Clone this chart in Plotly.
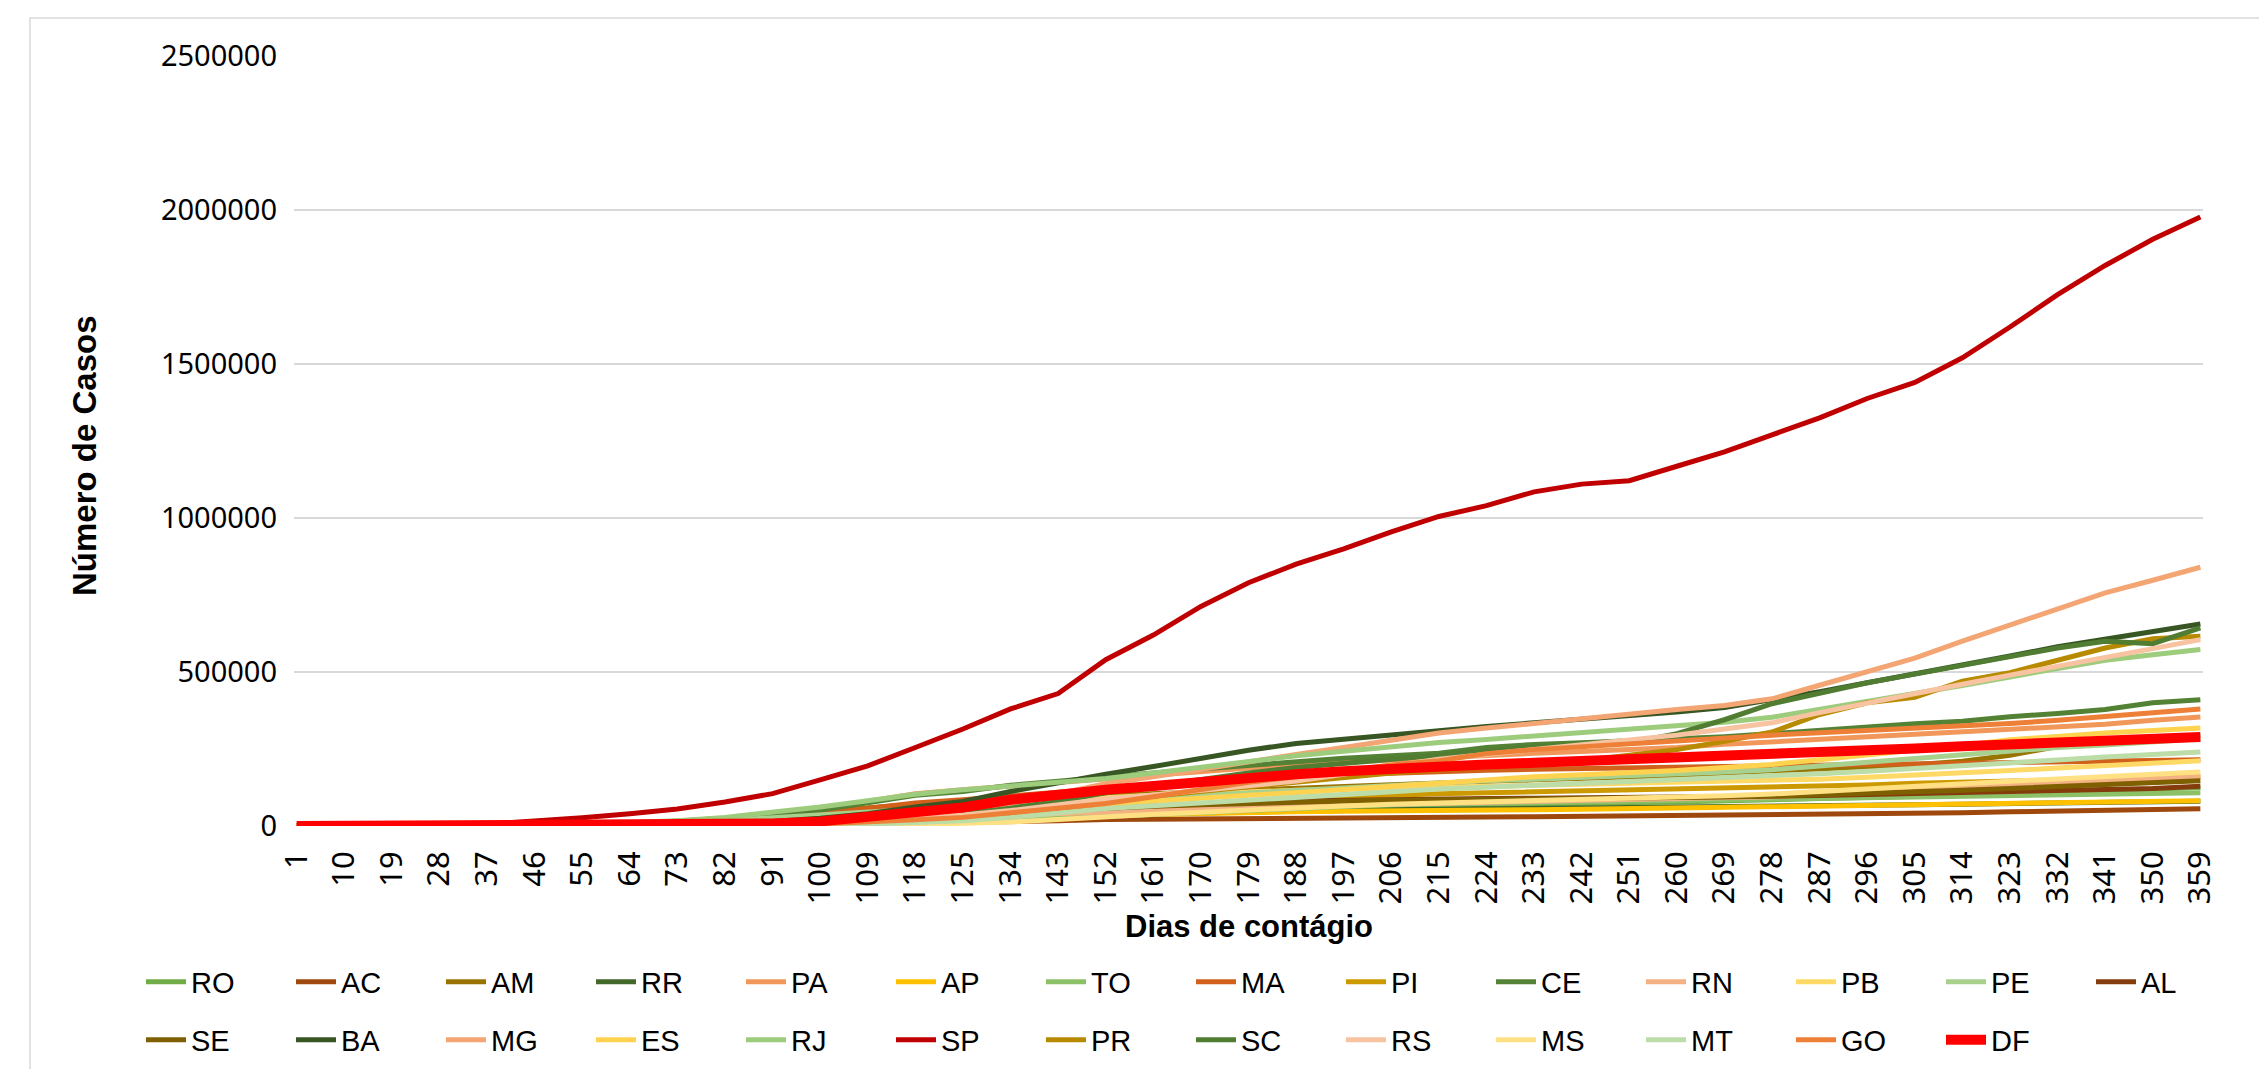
import plotly.graph_objects as go

# Day labels shown on the category axis (one sample every 9 rows)
DAY_LABELS = ["1", "10", "19", "28", "37", "46", "55", "64", "73", "82", "91", "100",
              "109", "118", "125", "134", "143", "152", "161", "170", "179", "188",
              "197", "206", "215", "224", "233", "242", "251", "260", "269", "278",
              "287", "296", "305", "314", "323", "332", "341", "350", "359"]

STATES = ["RO", "AC", "AM", "RR", "PA", "AP", "TO", "MA", "PI", "CE", "RN", "PB", "PE", "AL",
          "SE", "BA", "MG", "ES", "RJ", "SP", "PR", "SC", "RS", "MS", "MT", "GO", "DF"]

# Cumulative cases, in thousands, read at each labelled day
RO = [0, 0, 0, 0, 0, 0.05, 0.2, 0.5, 1.2, 2.5, 5, 8, 12, 16, 19, 25, 33, 43, 48, 51, 54, 57, 61, 65, 68, 70, 72, 74, 76, 78, 81, 84, 88, 92, 96, 100, 104, 109, 114, 119, 125]
AC = [0, 0, 0, 0, 0, 0.05, 0.1, 0.2, 0.6, 1.5, 3.5, 5, 7, 9, 10.5, 13, 17, 21, 22.5, 23.5, 24.5, 25.5, 26.5, 27.5, 28, 29, 30, 31, 32, 33, 34, 35, 37, 39, 41, 43, 46, 49, 52, 54, 56]
AM = [0, 0, 0, 0, 0.3, 1.2, 3, 5.5, 11, 20, 36, 48, 60, 72, 82, 88, 94, 100, 106, 112, 118, 124, 130, 136, 141, 145, 150, 154, 159, 164, 172, 178, 186, 192, 199, 210, 230, 258, 272, 284, 295]
RR = [0, 0, 0, 0, 0, 0.03, 0.1, 0.4, 1, 2, 3, 5, 8, 11, 14, 20, 27, 36, 40, 43, 46, 48, 51, 54, 55, 56, 57, 58, 59, 60, 61, 63, 65, 67, 69, 71, 72, 74, 75, 77, 80]
PA = [0, 0, 0, 0, 0.1, 0.5, 2, 5, 10, 20, 36, 55, 80, 105, 118, 130, 142, 156, 167, 178, 190, 200, 207, 215, 222, 230, 236, 242, 248, 255, 265, 273, 283, 292, 300, 306, 312, 320, 330, 343, 354]
AP = [0, 0, 0, 0, 0, 0.1, 0.4, 1, 2.5, 4.5, 8, 13, 18, 23, 26, 30, 33, 37, 39, 41, 44, 46, 48, 50, 51, 52, 53, 54, 56, 58, 61, 63, 65, 67, 69, 71, 73, 75, 77, 80, 82]
TO = [0, 0, 0, 0, 0, 0, 0.03, 0.1, 0.3, 0.8, 1.8, 3.5, 6, 10, 13, 18, 24, 31, 38, 45, 53, 58, 63, 69, 72, 74, 76, 78, 80, 82, 84, 86, 89, 92, 95, 97, 99, 101, 103, 105, 108]
MA = [0, 0, 0, 0, 0.1, 0.5, 1.5, 3.5, 8, 15, 25, 40, 58, 75, 85, 98, 110, 122, 132, 142, 152, 160, 166, 172, 177, 181, 184, 187, 189, 191, 193, 195, 197, 199, 201, 203, 206, 208, 210, 212, 215]
PI = [0, 0, 0, 0, 0, 0.1, 0.3, 0.6, 1.2, 2.5, 4.5, 8, 13, 19, 24, 32, 42, 53, 62, 72, 82, 88, 95, 101, 105, 108, 111, 114, 116, 118, 120, 123, 128, 133, 139, 142, 145, 148, 151, 155, 160]
CE = [0, 0, 0, 0, 0.5, 1.5, 3.5, 7, 15, 25, 36, 52, 75, 100, 112, 132, 145, 160, 172, 185, 197, 210, 220, 228, 236, 255, 265, 270, 276, 283, 290, 300, 312, 322, 332, 340, 355, 365, 378, 400, 410]
RN = [0, 0, 0, 0, 0, 0.2, 0.4, 0.9, 1.6, 3, 5, 9, 15, 23, 29, 36, 42, 49, 53, 57, 62, 65, 68, 71, 73, 75, 77, 79, 82, 86, 90, 95, 102, 109, 116, 122, 129, 137, 144, 152, 160]
PB = [0, 0, 0, 0, 0, 0.1, 0.3, 0.9, 2, 4.5, 10, 17, 28, 40, 48, 62, 77, 92, 100, 106, 112, 116, 119, 122, 125, 128, 131, 134, 137, 140, 143, 146, 152, 158, 164, 172, 180, 188, 196, 204, 212]
PE = [0, 0, 0, 0, 0.2, 1, 2.5, 6, 11, 18, 27, 37, 46, 54, 60, 68, 76, 85, 93, 102, 111, 119, 127, 135, 142, 147, 152, 157, 162, 168, 175, 183, 195, 208, 220, 232, 243, 255, 263, 273, 283]
AL = [0, 0, 0, 0, 0, 0.05, 0.2, 1.2, 3, 6, 11, 17, 26, 35, 41, 48, 54, 62, 67, 72, 77, 81, 84, 87, 88, 89, 90, 91, 93, 94, 95, 97, 99, 102, 105, 108, 111, 114, 117, 122, 129]
SE = [0, 0, 0, 0, 0, 0.05, 0.1, 0.5, 1.2, 3, 5.5, 10, 17, 25, 31, 41, 50, 59, 64, 69, 74, 78, 81, 84, 85, 86, 87, 88, 90, 92, 94, 97, 101, 105, 110, 116, 122, 128, 134, 140, 147]
BA = [0, 0, 0, 0, 0.1, 0.7, 1.5, 2.8, 5, 8.5, 15, 25, 40, 62, 80, 112, 142, 168, 193, 220, 246, 268, 282, 297, 311, 323, 335, 346, 357, 370, 385, 409, 436, 465, 493, 522, 552, 582, 608, 632, 656]
MG = [0, 0, 0, 0.1, 0.3, 0.8, 1.4, 2.3, 3.5, 5, 6.8, 12, 20, 33, 45, 72, 105, 137, 160, 185, 208, 232, 255, 279, 302, 318, 334, 350, 364, 378, 391, 413, 457, 502, 545, 600, 653, 708, 757, 798, 840]
ES = [0, 0, 0, 0, 0, 0.3, 1, 2.3, 4, 6.5, 10, 15, 24, 35, 42, 52, 62, 73, 82, 91, 100, 108, 118, 128, 138, 152, 160, 166, 172, 180, 190, 200, 215, 230, 248, 262, 280, 293, 302, 310, 318]
RJ = [0, 0, 0, 0.2, 1, 3, 6, 10, 17, 28, 44, 62, 82, 103, 118, 130, 141, 154, 172, 191, 210, 228, 243, 258, 271, 281, 292, 303, 313, 325, 337, 353, 378, 403, 428, 456, 484, 513, 538, 556, 573]
SP = [0.001, 0.01, 0.1, 1, 6, 15, 27, 40, 55, 78, 105, 150, 195, 255, 315, 380, 430, 540, 620, 713, 790, 850, 900, 955, 1005, 1040, 1085, 1110, 1121, 1168, 1215, 1270, 1325, 1388, 1440, 1520, 1620, 1725, 1820, 1905, 1977]
PR = [0, 0, 0, 0, 0.2, 0.6, 1, 1.5, 2.2, 3, 3.6, 6, 11, 20, 28, 42, 58, 82, 97, 112, 130, 146, 160, 172, 182, 192, 201, 212, 230, 248, 275, 305, 362, 400, 418, 470, 498, 540, 578, 608, 616]
SC = [0, 0, 0, 0, 0.3, 0.8, 1.6, 2.8, 4, 5.5, 8.5, 13, 20, 30, 40, 58, 80, 108, 130, 150, 172, 190, 203, 218, 231, 244, 256, 264, 270, 300, 345, 397, 432, 465, 493, 520, 548, 578, 600, 592, 643]
RS = [0, 0, 0, 0, 0.2, 0.6, 1, 1.6, 3, 5, 8.5, 13, 20, 28, 36, 50, 68, 88, 101, 115, 130, 146, 168, 195, 217, 232, 246, 261, 278, 295, 315, 335, 368, 400, 432, 460, 490, 520, 548, 576, 605]
MS = [0, 0, 0, 0, 0, 0, 0.1, 0.2, 0.4, 0.6, 0.9, 1.5, 2.5, 5, 7, 13, 21, 31, 38, 45, 53, 59, 65, 71, 75, 78, 81, 84, 87, 92, 98, 104, 113, 121, 129, 137, 145, 153, 161, 168, 175]
MT = [0, 0, 0, 0, 0, 0, 0.1, 0.3, 0.6, 1, 1.5, 3, 6, 12, 17, 28, 42, 57, 66, 75, 85, 94, 104, 114, 120, 126, 132, 138, 143, 148, 155, 162, 170, 178, 186, 194, 204, 214, 224, 232, 240]
GO = [0, 0, 0, 0, 0, 0.3, 0.6, 1, 1.5, 2.5, 4, 7, 12, 20, 28, 42, 56, 73, 95, 118, 142, 160, 180, 198, 212, 235, 248, 258, 265, 275, 285, 295, 303, 310, 318, 327, 333, 343, 355, 368, 380]
DF = [0, 0, 0, 0, 0.4, 0.8, 1.2, 1.6, 2.5, 4, 8, 15, 28, 45, 60, 85, 103, 118, 130, 145, 158, 168, 178, 188, 195, 200, 205, 210, 215, 220, 226, 232, 238, 245, 252, 259, 266, 272, 277, 283, 289]

SERIES = {"RO": RO, "AC": AC, "AM": AM, "RR": RR, "PA": PA, "AP": AP, "TO": TO, "MA": MA,
          "PI": PI, "CE": CE, "RN": RN, "PB": PB, "PE": PE, "AL": AL, "SE": SE, "BA": BA,
          "MG": MG, "ES": ES, "RJ": RJ, "SP": SP, "PR": PR, "SC": SC, "RS": RS, "MS": MS,
          "MT": MT, "GO": GO, "DF": DF}

COLORS = {"RO": "#70AD47", "AC": "#9E480E", "AM": "#997300", "RR": "#43682B",
          "PA": "#F1975A", "AP": "#FFC000", "TO": "#8CC168", "MA": "#D0601A",
          "PI": "#CC9900", "CE": "#548235", "RN": "#F4B183", "PB": "#FFD966",
          "PE": "#A9D18E", "AL": "#843C0C", "SE": "#7F6000", "BA": "#375623",
          "MG": "#F3A573", "ES": "#FFD34F", "RJ": "#9ECC7D", "SP": "#C00000",
          "PR": "#B88A00", "SC": "#507D32", "RS": "#F7C3A0", "MS": "#FFE083",
          "MT": "#BCDCA8", "GO": "#EE7F37", "DF": "#FF0000"}

W, H = 2267, 1069
L, R, T, B = 286, 72, 48, 251
PW, PH = W - L - R, H - T - B


def px_x(x):   # pixel -> paper x
    return (x - L) / PW


def px_y(y):   # pixel -> paper y
    return (H - B - y) / PH


fig = go.Figure()
for i, st in enumerate(STATES):
    fig.add_trace(go.Scatter(
        x=DAY_LABELS, y=[v * 1000 for v in SERIES[st]], name=st, mode="lines",
        line=dict(color=COLORS[st], width=10 if st == "DF" else 5),
        legend="legend" if i < 14 else "legend2",
    ))

TXT = "Noto Sans"
LEG_FONT = dict(family="Liberation Sans", size=29, color="#000000")

leg_common = dict(orientation="h", xref="paper", yref="paper", x=px_x(133),
                  xanchor="left", yanchor="middle", entrywidth=95,
                  entrywidthmode="pixels", font=LEG_FONT, itemwidth=40,
                  tracegroupgap=0, bgcolor="rgba(0,0,0,0)")

fig.update_layout(
    width=W, height=H,
    margin=dict(l=L, r=R, t=T, b=B, autoexpand=False),
    paper_bgcolor="white", plot_bgcolor="white",
    xaxis=dict(type="category", categoryorder="array", categoryarray=DAY_LABELS,
               range=[-0.5 / 9, 40 + 0.5 / 9], tickangle=-90, showgrid=False,
               showline=False, zeroline=False, ticks="", ticklabelstandoff=18,
               tickfont=dict(family=TXT, size=31, color="#000000")),
    yaxis=dict(range=[0, 2500000], dtick=500000, tickformat="d", showgrid=True,
               gridcolor="#D9D9D9", gridwidth=1.5, zeroline=False, showline=False,
               ticks="", tickfont=dict(family=TXT, size=29, color="#000000"),
               ticklabelstandoff=16),
    legend=dict(leg_common, y=px_y(974)),
    legend2=dict(leg_common, y=px_y(1032)),
    showlegend=True,
)

fig.add_annotation(text="<b>Número de Casos</b>", xref="paper", yref="paper",
                   x=px_x(77), y=px_y(448), xanchor="center", yanchor="middle",
                   textangle=-90, showarrow=False,
                   font=dict(family="Liberation Sans", size=33, color="#000000"))
fig.add_annotation(text="<b>Dias de contágio</b>", xref="paper", yref="paper",
                   x=0.5, y=px_y(918), xanchor="center", yanchor="middle",
                   showarrow=False,
                   font=dict(family="Liberation Sans", size=31, color="#000000"))

# chart-area border (left and top edges visible in the reference)
fig.add_shape(type="rect", xref="paper", yref="paper",
              x0=px_x(22), x1=px_x(W + 6), y0=px_y(H + 6), y1=px_y(10),
              line=dict(color="#D9D9D9", width=1.5), fillcolor="rgba(0,0,0,0)",
              layer="below")

fig.write_html("out.html")
